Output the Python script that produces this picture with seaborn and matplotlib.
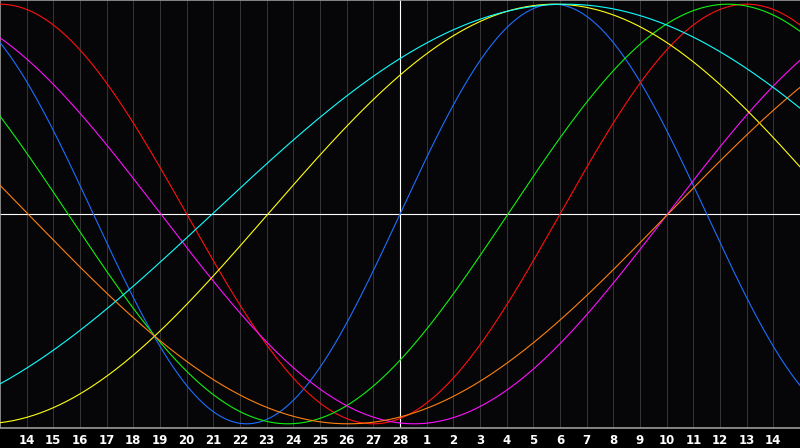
import matplotlib
matplotlib.use('Agg')
import matplotlib.pyplot as plt
import numpy as np
import pandas as pd
import seaborn as sns

# biorhythm cycles: length in days and the day index (0 = left edge) where each one crosses zero going up
cycle_names = ['physical', 'emotional', 'intellectual', 'intuitive', 'aesthetic', 'awareness', 'spiritual']
cycle_days = [23, 28, 33, 38, 43, 48, 53]
zero_up_day = [15.0, 21.0, 19.05, 25.03, 10.05, 25.05, 7.96]
cycle_colors = ['#1e6eff', '#ff1010', '#10f010', '#ff10ff', '#ffff10', '#ff8010', '#10ffff']

# day labels under the grid lines (end of February, start of March)
day_labels = [str(d) for d in range(14, 29)] + [str(d) for d in range(1, 15)]
n_days = 30

rows = []
t = np.linspace(0, n_days, 601)
for name, period, z in zip(cycle_names, cycle_days, zero_up_day):
    rows.append(pd.DataFrame({'day': t, 'value': np.sin(2 * np.pi * (t - z) / period), 'cycle': name}))
df = pd.concat(rows)

sns.set_style('dark', {'axes.facecolor': '#060608', 'figure.facecolor': '#000000'})
plt.rcParams['font.family'] = ['DejaVu Sans']

fig = plt.figure(figsize=(8, 4.48), dpi=100)
ax = fig.add_axes([0, 20 / 448, 1, 428 / 448])

for d in range(1, n_days):
    ax.axvline(d, color='#333333', lw=0.75, zorder=1)
ax.axhline(0, color='white', lw=0.8, zorder=2)
ax.axvline(15, color='white', lw=0.8, zorder=2)

sns.lineplot(data=df, x='day', y='value', hue='cycle', hue_order=cycle_names,
             palette=dict(zip(cycle_names, cycle_colors)), lw=0.8, legend=False, ax=ax, zorder=3)

ax.set_xlim(0, n_days)
ax.set_ylim(-1.02, 1.02)
ax.set_xticks(range(1, n_days))
ax.set_xticklabels(day_labels, color='white', fontsize=8.5, fontweight='bold')
ax.set_yticks([])
ax.tick_params(axis='x', length=0, pad=4)
ax.set_xlabel('')
ax.set_ylabel('')
ax.grid(False)
for side in ['top', 'bottom', 'left']:
    ax.spines[side].set_visible(True)
    ax.spines[side].set_color('#9a9a9a')
    ax.spines[side].set_linewidth(1.2)
ax.spines['right'].set_visible(False)

fig.savefig('out.png', dpi=100, facecolor='#000000')
